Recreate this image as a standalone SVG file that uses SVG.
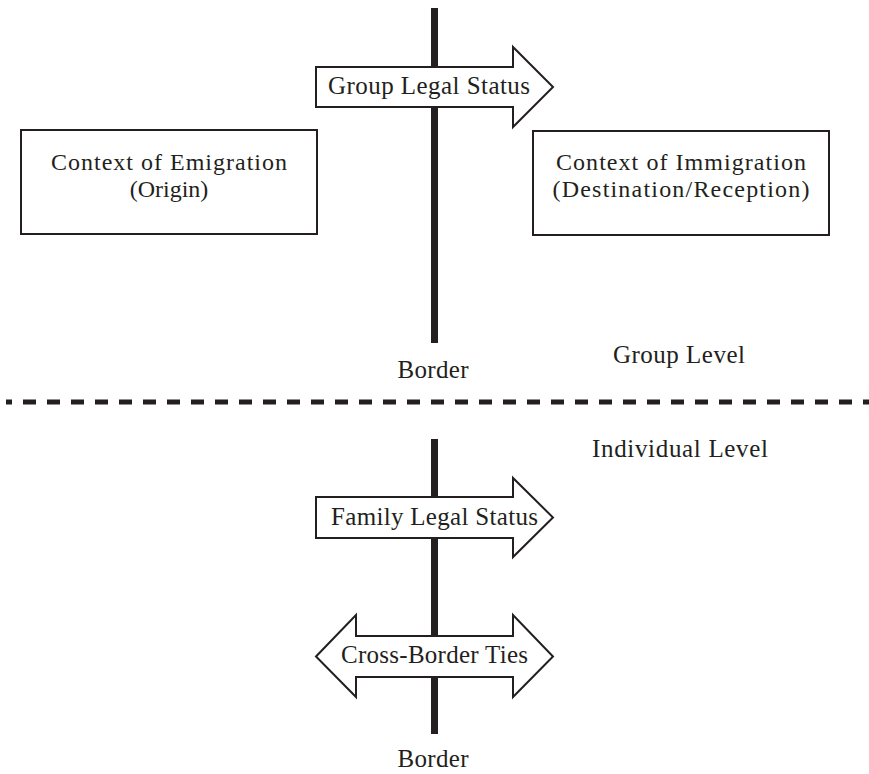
<svg xmlns="http://www.w3.org/2000/svg" width="869" height="774" viewBox="0 0 869 774">
<style>
text{font-family:"Liberation Serif","Times New Roman",serif;font-size:25px;fill:#231f20}
.boxtext{font-size:24px}
.border{stroke:#231f20;stroke-width:7;fill:none}
.arrow{fill:#fff;stroke:#231f20;stroke-width:2;stroke-linejoin:miter}
.box{fill:#fff;stroke:#231f20;stroke-width:2}
.mid{text-anchor:middle}
</style>
<rect width="869" height="774" fill="#fff"/>
<g id="connectors">
<line class="border" x1="434.5" y1="8" x2="434.5" y2="343"/>
<line class="border" x1="434.5" y1="439" x2="434.5" y2="734"/>
<line x1="6" y1="402" x2="869" y2="402" stroke="#231f20" stroke-width="5" stroke-dasharray="13 11" stroke-dashoffset="7"/>
</g>
<g id="emigration">
<rect class="box" x="21" y="130" width="296" height="104"/>
<text class="mid boxtext" x="169" y="170" textLength="236">Context of Emigration</text>
<text class="mid boxtext" x="169" y="197">(Origin)</text>
</g>
<g id="immigration">
<rect class="box" x="533" y="131" width="296" height="104"/>
<text class="mid boxtext" x="681" y="170" textLength="250">Context of Immigration</text>
<text class="mid boxtext" x="681" y="197" textLength="257">(Destination/Reception)</text>
</g>
<g id="group-legal-status">
<polygon class="arrow" points="316,67 513,67 513,47 553,87 513,127 513,107 316,107"/>
<text x="328" y="94" textLength="202">Group Legal Status</text>
</g>
<g id="border-top">
<text class="mid" x="433" y="378" textLength="71">Border</text>
</g>
<g id="group-level">
<text x="613" y="363" textLength="132">Group Level</text>
</g>
<g id="individual-level">
<text x="592" y="457" textLength="176">Individual Level</text>
</g>
<g id="family-legal-status">
<polygon class="arrow" points="316,497 513,497 513,478 553,517.5 513,557 513,538 316,538"/>
<text x="331" y="525" textLength="207">Family Legal Status</text>
</g>
<g id="cross-border-ties">
<polygon class="arrow" points="316,656.5 356,615 356,636 513,636 513,615 553,656.5 513,697 513,677 356,677 356,697"/>
<text x="341" y="663" textLength="187">Cross-Border Ties</text>
</g>
<g id="border-bottom">
<text class="mid" x="433" y="767" textLength="71">Border</text>
</g>
</svg>
